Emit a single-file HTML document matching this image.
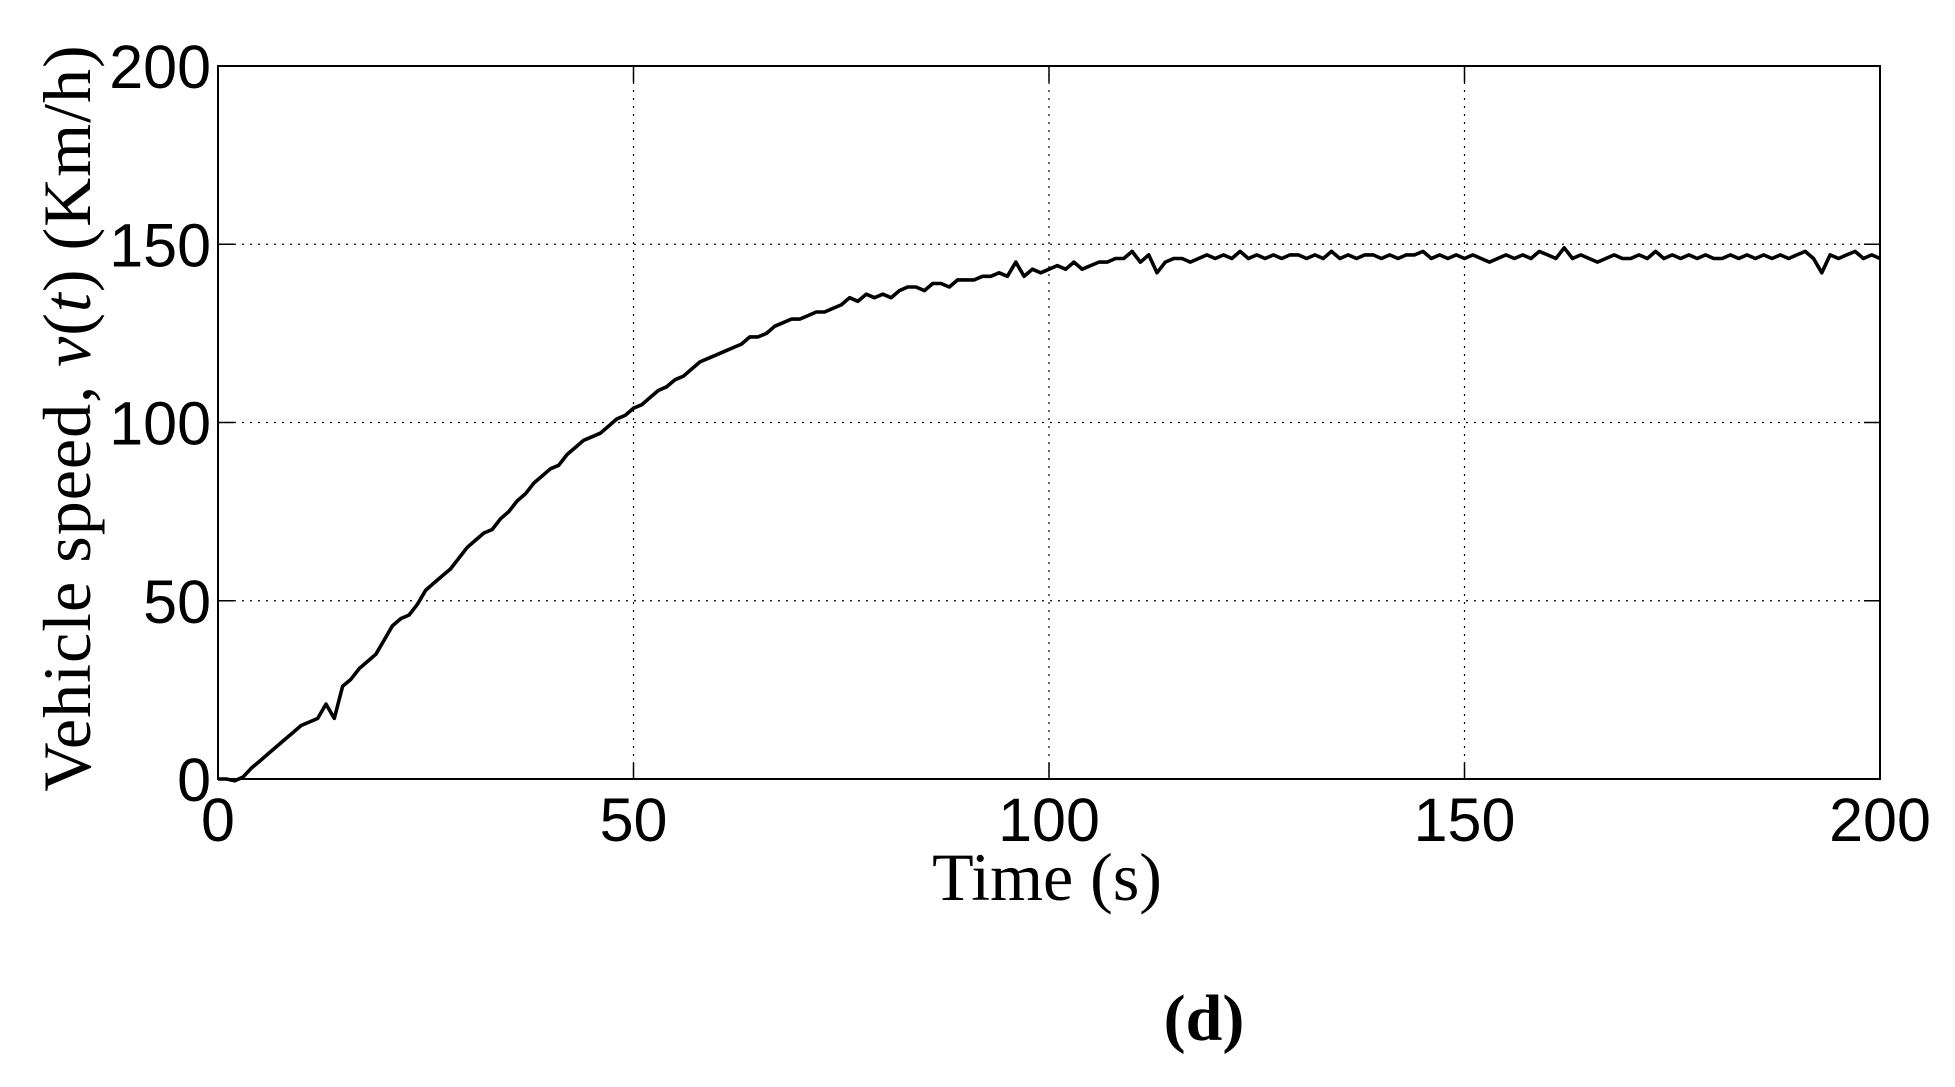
<!DOCTYPE html>
<html><head><meta charset="utf-8">
<style>
html,body{margin:0;padding:0;background:#fff;}
svg{display:block;}
.tick{font-family:"Liberation Sans",sans-serif;font-size:61px;fill:#000;}
.serif{font-family:"Liberation Serif",serif;fill:#000;}
</style></head>
<body>
<svg id="chart" width="1955" height="1087" viewBox="0 0 1955 1087" xmlns="http://www.w3.org/2000/svg">
<rect width="1955" height="1087" fill="#fff"/>
<g id="grid"></g>
<g id="ticks"></g>
<path id="series" fill="none" stroke="#000" stroke-width="3.6" stroke-linejoin="round"/>
<rect x="218" y="66" width="1662" height="713" fill="none" stroke="#000" stroke-width="2"/>
<g id="labels"></g>
<text class="serif" x="1047" y="900" font-size="68" text-anchor="middle">Time (s)</text>
<text class="serif" font-size="68" letter-spacing="1" text-anchor="middle" transform="translate(90,418) rotate(-90)">Vehicle speed, <tspan font-style="italic">v</tspan>(<tspan font-style="italic">t</tspan>)  (Km/h)</text>
<text class="serif" x="1204" y="1040" font-size="66" font-weight="bold" text-anchor="middle">(d)</text>
</svg>
<script>
const xTicks=[0,50,100,150,200];
const yTicks=[0,50,100,150,200];
const speed=[0,0,-0.5,0.5,3,5,7,9,11,13,15,
16,17,21,17,26,28,31,33,35,39,
43,45,46,49,53,55,57,59,62,65,
67,69,70,73,75,78,80,83,85,87,
88,91,93,95,96,97,99,101,102,104,
105,107,109,110,112,113,115,117,118,119,
120,121,122,124,124,125,127,128,129,129,
130,131,131,132,133,135,134,136,135,136,
135,137,138,138,137,139,139,138,140,140,
140,141,141,142,141,145,141,143,142,143,
144,143,145,143,144,145,145,146,146,148,
145,147,142,145,146,146,145,146,147,146,
147,146,148,146,147,146,147,146,147,147,
146,147,146,148,146,147,146,147,147,146,
147,146,147,147,148,146,147,146,147,146,
147,146,145,146,147,146,147,146,148,147,
146,149,146,147,146,145,146,147,146,146,
147,146,148,146,147,146,147,146,147,146,
146,147,146,147,146,147,146,147,146,147,
148,146,142,147,146,147,148,146,147,146];
const X0=218,X1=1880,Y0=779,Y1=66;
function xs(t){return X0+(t-0)/(200-0)*(X1-X0);}
function ys(v){return Y0-(v-0)/(200-0)*(Y0-Y1);}
const NS="http://www.w3.org/2000/svg";
const grid=document.getElementById('grid'),ticks=document.getElementById('ticks'),labels=document.getElementById('labels');
function mk(tag,attrs,parent){const e=document.createElementNS(NS,tag);for(const k in attrs)e.setAttribute(k,attrs[k]);parent.appendChild(e);return e;}
xTicks.forEach(t=>{
  const x=xs(t);
  if(t>0&&t<200){
    const g=mk('line',{x1:x,x2:x,y1:Y1,y2:Y0,stroke:'#000','stroke-width':1.2,'stroke-dasharray':'2 6'},grid);
    
    
  }
  const a=mk('line',{x1:x,x2:x,y1:Y0,y2:Y0-16,stroke:'#000','stroke-width':1.5},ticks);
  
  
  const b=mk('line',{x1:x,x2:x,y1:Y1,y2:Y1+16,stroke:'#000','stroke-width':1.5},ticks);
  
  
  const l=mk('text',{x:x,y:841,'text-anchor':'middle',class:'tick'},labels);
  l.textContent=t;
  
  
});
yTicks.forEach(v=>{
  const y=ys(v);
  if(v>0&&v<200){
    const g=mk('line',{x1:X0,x2:X1,y1:y,y2:y,stroke:'#000','stroke-width':1.2,'stroke-dasharray':'2 6'},grid);
    
    
  }
  const a=mk('line',{x1:X0,x2:X0+16,y1:y,y2:y,stroke:'#000','stroke-width':1.5},ticks);
  
  
  const b=mk('line',{x1:X1,x2:X1-16,y1:y,y2:y,stroke:'#000','stroke-width':1.5},ticks);
  
  
  const l=mk('text',{x:211,y:y+22,'text-anchor':'end',class:'tick'},labels);
  l.textContent=v;
  
  
});
let d='';
speed.forEach((v,i)=>{d+=(i?'L':'M')+xs(i).toFixed(1)+','+ys(v).toFixed(1);});
document.getElementById('series').setAttribute('d',d);
</script>
</body></html>
